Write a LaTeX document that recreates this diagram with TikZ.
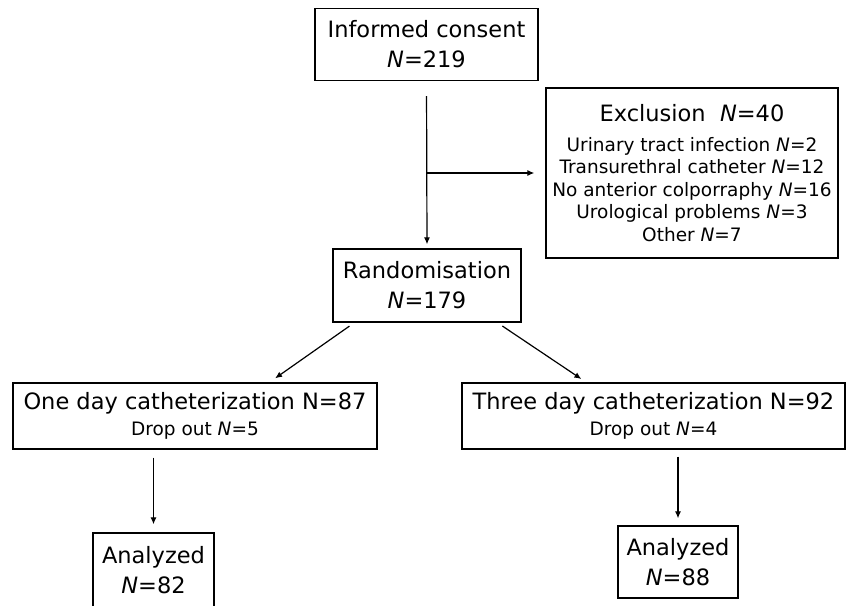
\documentclass[tikz,border=0pt]{standalone}
\usepackage{fontspec}
\setmainfont{DejaVu Sans}
\usetikzlibrary{arrows.meta}
\newcommand{\nn}{\textit{N}}
\tikzset{
  box/.style={draw,line width=1.3pt,align=center,inner sep=0pt},
  big/.style={font=\fontsize{22.5}{30}\selectfont},
  small/.style={font=\fontsize{18.5}{22.5}\selectfont},
  link/.style={-{Latex[length=7pt,width=6pt]},line width=1.2pt},
}
\begin{document}
\begin{tikzpicture}[x=1pt,y=1pt]
\useasboundingbox (0,0) rectangle (848,-605);
\clip (0,0) rectangle (848,-605);
\node[box,big,minimum width=223,minimum height=72] (consent) at (426.5,-44.5) {Informed consent\\\nn=219};
\node[box,small,minimum width=292,minimum height=170] (excl) at (692,-173) {{\fontsize{22.5}{30}\selectfont Exclusion\ \ \nn=40}\\[7pt]
  Urinary tract infection \nn=2\\Transurethral catheter \nn=12\\No anterior colporraphy \nn=16\\Urological problems \nn=3\\Other \nn=7};
\node[box,big,minimum width=188,minimum height=73] (rand) at (427,-285.5) {Randomisation\\\nn=179};
\node[box,small,minimum width=364,minimum height=66] (one) at (195,-416) {{\fontsize{22.5}{30}\selectfont One day catheterization N=87}\\[4pt]Drop out \nn=5};
\node[box,small,minimum width=383,minimum height=66] (three) at (653.5,-416) {{\fontsize{22.5}{30}\selectfont Three day catheterization N=92}\\[4pt]Drop out \nn=4};
\node[box,big,minimum width=121,minimum height=74] (anl) at (153.5,-570) {Analyzed\\\nn=82};
\node[box,big,minimum width=120,minimum height=72] (anr) at (678,-562) {Analyzed\\\nn=88};
% connectors
\draw[link,shorten <=15pt,shorten >=4pt] (consent.south) -- (rand.north);
\draw[link,shorten >=11pt] (consent.south |- excl.west) -- (excl.west);
\draw[link,shorten <=6pt,shorten >=7pt] ([xshift=22pt]rand.south west) -- ([xshift=257pt]one.north west);
\draw[link,shorten <=6pt,shorten >=6pt] ([xshift=165pt]rand.south west) -- ([xshift=125pt]three.north west);
\draw[link,shorten <=8pt,shorten >=8pt] (anl.north |- one.south) -- (anl.north);
\draw[link,shorten <=7pt,shorten >=7pt] (anr.north |- three.south) -- (anr.north);
\end{tikzpicture}
\end{document}
